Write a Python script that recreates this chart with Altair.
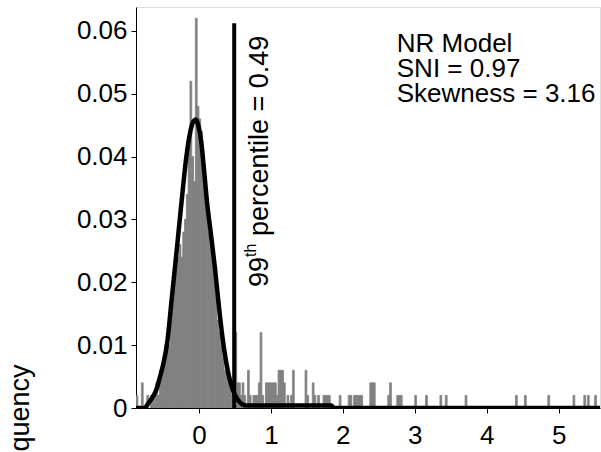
import altair as alt
import pandas as pd

FONT = "Liberation Sans"
BIN_W = 0.025

# central histogram bins (contiguous, left edges start at -0.875)
central_start = -0.875
central_freq = [
    0.002, 0.0, 0.0, 0.004, 0.0, 0.0, 0.002, 0.0, 0.002, 0.002,
    0.002, 0.004, 0.002, 0.006, 0.006, 0.008, 0.010, 0.012, 0.010, 0.016,
    0.018, 0.020, 0.022, 0.024, 0.026, 0.024, 0.028, 0.030, 0.034, 0.042,
    0.052, 0.040, 0.036, 0.062, 0.048, 0.046, 0.044, 0.038, 0.034, 0.032,
    0.028, 0.028, 0.024, 0.022, 0.018, 0.014, 0.012, 0.010, 0.008, 0.006,
    0.006, 0.004, 0.004, 0.002, 0.004,
]

# tail bins: left edge and count (one count = 0.002 frequency)
COUNT_FREQ = 0.002
tail_left = [
    0.500, 0.525, 0.550, 0.575, 0.600, 0.625, 0.675, 0.700, 0.750, 0.775,
    0.800, 0.825, 0.850, 0.875, 0.925, 0.950, 0.975, 1.000, 1.025, 1.050,
    1.075, 1.100, 1.125, 1.150, 1.175, 1.225, 1.275, 1.300, 1.475, 1.500,
    1.575, 1.600, 1.650, 1.725, 1.750, 1.775, 1.800, 1.950, 2.075, 2.100,
    2.150, 2.175, 2.200, 2.225, 2.250, 2.375, 2.400, 2.425, 2.625, 2.650,
    2.750, 2.775, 2.800, 3.000, 3.150, 3.350, 3.425, 3.700, 4.400, 4.525,
    4.850, 5.200, 5.350, 5.400, 5.500,
]
tail_count = [
    6, 2, 2, 1, 2, 1, 3, 1, 1, 1,
    1, 2, 6, 1, 2, 2, 2, 2, 2, 2,
    1, 3, 3, 3, 2, 1, 1, 3, 3, 1,
    2, 1, 1, 1, 1, 1, 1, 1, 1, 1,
    1, 1, 1, 1, 1, 2, 2, 2, 1, 2,
    1, 1, 1, 1, 1, 1, 1, 1, 1, 1,
    1, 1, 1, 1, 1,
]

# fitted density curve
curve_x = [-0.875, -0.76, -0.70, -0.64, -0.59, -0.54, -0.50, -0.44, -0.38, -0.31,
           -0.24, -0.18, -0.12, -0.07, -0.04, -0.01, 0.03, 0.07, 0.11, 0.165,
           0.22, 0.27, 0.32, 0.39, 0.47, 0.54, 0.60, 0.66, 1.84, 1.88, 5.575]
curve_y = [0.0, 0.0, 0.0008, 0.0018, 0.0030, 0.0050, 0.0068, 0.0105, 0.0172, 0.0250,
           0.0330, 0.0395, 0.0440, 0.0457, 0.0459, 0.0450, 0.0425, 0.0380, 0.0330, 0.0278,
           0.0225, 0.0170, 0.0119, 0.0066, 0.0029, 0.0013, 0.0006, 0.0004, 0.0004, 0.0, 0.0]

percentile_x = 0.49
percentile_top = 0.0612

x_domain = [-0.875, 5.575]
y_domain = [0, 0.0638]
x_ticks = [0, 1, 2, 3, 4, 5]
y_ticks = [0, 0.01, 0.02, 0.03, 0.04, 0.05, 0.06]

ann_lines = ["NR Model", "SNI = 0.97", "Skewness = 3.16"]
ann_x = 2.75
ann_y = [0.05664, 0.05267, 0.04869]

label_x = 0.958
label_y = 0.01925

# ---- build tables ----
lefts = [central_start + i * BIN_W for i in range(len(central_freq))] + tail_left
freqs = central_freq + [c * COUNT_FREQ for c in tail_count]
hist = pd.DataFrame({"left": lefts, "freq": freqs})
hist["right"] = hist["left"] + BIN_W
hist = hist[hist["freq"] > 0]

curve = pd.DataFrame({"x": curve_x, "y": curve_y})

xs = alt.Scale(domain=x_domain, nice=False, zero=False)
ys = alt.Scale(domain=y_domain, nice=False)

x_axis = alt.Axis(values=x_ticks, format="d", title=None, grid=False,
                  tickSize=5, labelPadding=9, labelFontSize=26, labelFont=FONT,
                  labelColor="black", domainColor="black", tickColor="black")
y_axis = alt.Axis(values=y_ticks, title="Frequency", grid=False,
                  labelExpr="datum.value == 0 ? '0' : format(datum.value, '.2f')",
                  tickSize=5, labelPadding=4, labelFontSize=26, labelFont=FONT,
                  labelColor="black", domainColor="black", tickColor="black",
                  titleFont=FONT, titleFontSize=27, titleFontWeight="normal",
                  titleColor="black", titleAngle=270, titleAlign="right",
                  titleBaseline="alphabetic", titleX=-108, titleY=357)

bars = alt.Chart(hist).mark_rect(color="#808080", stroke="#808080",
                                 strokeWidth=0.8, clip=True).encode(
    x=alt.X("left:Q", scale=xs, axis=x_axis),
    x2="right:Q",
    y=alt.Y("freq:Q", scale=ys, axis=y_axis),
    y2=alt.datum(0),
)

line = alt.Chart(curve).mark_line(color="black", strokeWidth=4.5, clip=True,
                                  interpolate="monotone", strokeJoin="round").encode(
    x=alt.X("x:Q", scale=xs),
    y=alt.Y("y:Q", scale=ys),
)

rule_df = pd.DataFrame({"x": [percentile_x], "y": [0.0], "y2": [percentile_top]})
rule = alt.Chart(rule_df).mark_rule(color="black", strokeWidth=4).encode(
    x=alt.X("x:Q", scale=xs), y=alt.Y("y:Q", scale=ys), y2="y2:Q"
)

lab_df = pd.DataFrame({"x": [label_x], "y": [label_y]})
t99 = alt.Chart(lab_df).mark_text(text="99", angle=270, align="left",
                                  baseline="alphabetic", font=FONT, fontSize=27,
                                  color="black").encode(
    x=alt.X("x:Q", scale=xs), y=alt.Y("y:Q", scale=ys))
tth = alt.Chart(lab_df).mark_text(text="th", angle=270, align="left",
                                  baseline="alphabetic", font=FONT, fontSize=16,
                                  dx=30, dy=-12, color="black").encode(
    x=alt.X("x:Q", scale=xs), y=alt.Y("y:Q", scale=ys))
tpc = alt.Chart(lab_df).mark_text(text="percentile = 0.49", angle=270, align="left",
                                  baseline="alphabetic", font=FONT, fontSize=27,
                                  dx=51, color="black").encode(
    x=alt.X("x:Q", scale=xs), y=alt.Y("y:Q", scale=ys))

ann_df = pd.DataFrame({"t": ann_lines, "x": [ann_x] * 3, "y": ann_y})
ann = alt.Chart(ann_df).mark_text(align="left", baseline="alphabetic", font=FONT,
                                  fontSize=26, color="black").encode(
    x=alt.X("x:Q", scale=xs), y=alt.Y("y:Q", scale=ys), text="t:N")

chart = alt.layer(bars, line, rule, t99, tth, tpc, ann).properties(
    width=464, height=401,
    autosize=alt.AutoSizeParams(type="none"),
    padding={"left": 136, "top": 7, "right": 1, "bottom": 44},
).configure_view(stroke=None).configure(background="white")

chart.save("out.html", embed_options={"renderer": "svg", "actions": False})
